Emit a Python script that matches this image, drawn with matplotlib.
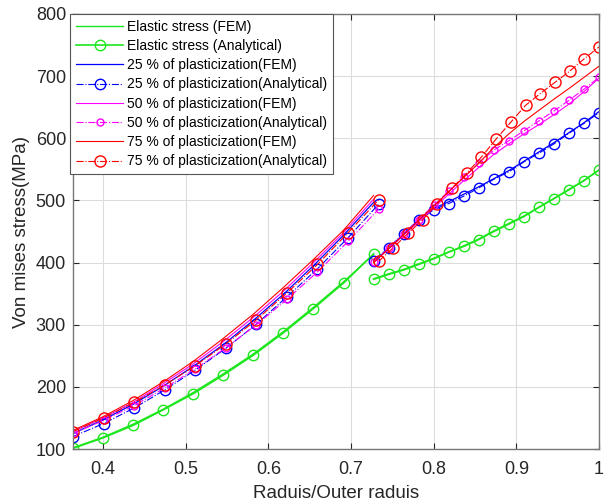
import matplotlib
matplotlib.use("Agg")
import matplotlib.pyplot as plt

plt.rcParams['font.family'] = ['Liberation Sans', 'DejaVu Sans']

# radius ratios (r / outer radius)
x_el_left = [0.3636, 0.4000, 0.4364, 0.4727, 0.5091, 0.5455, 0.5818, 0.6182, 0.6545, 0.6909, 0.7273]
x_el_right = [0.7273, 0.7455, 0.7636, 0.7818, 0.8000, 0.8182, 0.8364, 0.8545,
              0.8727, 0.8909, 0.9091, 0.9273, 0.9455, 0.9636, 0.9818, 1.0000]
x_pl_left = [0.3636, 0.4006, 0.4376, 0.4745, 0.5115, 0.5485, 0.5855, 0.6225, 0.6594, 0.6964, 0.7334]
x_pl_right = [0.7334, 0.7511, 0.7689, 0.7867, 0.8045, 0.8223, 0.8400, 0.8578,
              0.8756, 0.8934, 0.9111, 0.9289, 0.9467, 0.9645, 0.9822, 1.0000]

# elastic
el_fem_left = [102, 119, 140, 164, 191, 221, 253, 289, 328, 369, 413]
el_ana_left = [101, 118, 138, 163, 189, 219, 251, 287, 326, 367, 414]
el_fem_right = [374, 382, 389, 398, 407, 417, 427, 438, 451, 463, 475, 489, 503, 518, 532, 549]
el_ana_right = [373, 381, 388, 397, 406, 417, 426, 437, 450, 462, 474, 489, 503, 517, 532, 549]

# 25 % plasticization
p25_fem_left = [125, 147, 172, 201, 233, 268, 307, 349, 395, 444, 497]
p25_ana_left = [120, 141, 166, 195, 227, 262, 301, 345, 390, 440, 494]
p25_fem_right = [401, 423, 446, 469, 487, 498, 510, 522, 535, 548, 563, 578, 593, 609, 625, 643]
p25_ana_right = [402, 424, 446, 468, 485, 495, 507, 520, 534, 546, 562, 576, 591, 608, 624, 641]

# 50 % plasticization
p50_fem_left = [128, 150, 175, 205, 237, 273, 312, 354, 400, 448, 502]
p50_ana_left = [125, 146, 170, 198, 229, 263, 300, 341, 385, 434, 486]
p50_fem_right = [400, 422, 444, 466, 488, 510, 532, 553, 574, 591, 607, 622, 638, 655, 675, 697]
p50_ana_right = [401, 423, 446, 469, 492, 515, 537, 560, 581, 596, 612, 628, 644, 661, 679, 698]

# 75 % plasticization
p75_fem_left = [130, 152, 178, 208, 241, 278, 317, 360, 405, 452, 508]
p75_ana_left = [128, 150, 175, 203, 234, 269, 308, 351, 397, 448, 501]
p75_fem_right = [400, 422, 445, 468, 491, 514, 537, 560, 585, 607, 627, 645, 663, 680, 698, 716]
p75_ana_right = [402, 424, 447, 469, 495, 520, 544, 570, 599, 626, 653, 672, 690, 708, 728, 747]

labels = ['Elastic stress (FEM)', 'Elastic stress (Analytical)',
          '25 % of plasticization(FEM)', '25 % of plasticization(Analytical)',
          '50 % of plasticization(FEM)', '50 % of plasticization(Analytical)',
          '75 % of plasticization(FEM)', '75 % of plasticization(Analytical)']

GREEN = '#1ee61e'
BLUE = '#0000ff'
MAGENTA = '#ff00ff'
RED = '#ff0000'

fig = plt.figure(figsize=(6.06, 5.03), dpi=100)
ax = fig.add_axes([73 / 606, 54 / 503, 526 / 606, 435 / 503])


def fem(xl, yl, xr, yr, color, lw, label):
    h, = ax.plot(xl, yl, color=color, lw=lw, label=label)
    ax.plot(xr, yr, color=color, lw=lw)
    return h


def ana(xl, yl, xr, yr, color, ls, ms, lw, label):
    kw = dict(color=color, ls=ls, lw=lw, marker='o', ms=ms, mfc='none', mew=1.0)
    h, = ax.plot(xl, yl, label=label, **kw)
    ax.plot(xr, yr, **kw)
    return h


handles = [
    fem(x_el_left, el_fem_left, x_el_right, el_fem_right, GREEN, 1.0, labels[0]),
    ana(x_el_left, el_ana_left, x_el_right, el_ana_right, GREEN, '-', 7.5, 1.2, labels[1]),
    fem(x_el_left, p25_fem_left, x_el_right, p25_fem_right, BLUE, 0.9, labels[2]),
    ana(x_pl_left, p25_ana_left, x_el_right, p25_ana_right, BLUE, '-.', 7.5, 0.8, labels[3]),
    fem(x_el_left, p50_fem_left, x_el_right, p50_fem_right, MAGENTA, 0.8, labels[4]),
    ana(x_pl_left, p50_ana_left, x_el_right, p50_ana_right, MAGENTA, '-.', 5, 0.8, labels[5]),
    fem(x_el_left, p75_fem_left, x_el_right, p75_fem_right, RED, 0.8, labels[6]),
    ana(x_pl_left, p75_ana_left, x_pl_right, p75_ana_right, RED, '-.', 8, 0.8, labels[7]),
]

ax.set_xlim(0.3636, 1.0)
ax.set_ylim(100, 800)
ax.set_xticks([0.4, 0.5, 0.6, 0.7, 0.8, 0.9, 1.0])
ax.set_xticklabels(['0.4', '0.5', '0.6', '0.7', '0.8', '0.9', '1'])
ax.set_yticks(range(100, 801, 100))
ax.grid(True, color='#dcdcdc', lw=0.8)
ax.set_axisbelow(True)
ax.tick_params(direction='in', top=True, right=True, labelsize=13,
               colors='#262626', length=4)
ax.tick_params(axis='x', pad=9)
ax.tick_params(axis='y', pad=5)
for s in ax.spines.values():
    s.set_color('#777777')
    s.set_linewidth(1.0)

ax.set_xlabel('Raduis/Outer raduis', fontsize=13.5, color='#262626', labelpad=5)
ax.set_ylabel('Von mises stress(MPa)', fontsize=13.5, color='#262626', labelpad=4)

leg = ax.legend(handles=handles, loc='upper left', bbox_to_anchor=(-0.005, 1.0),
                borderaxespad=0, fontsize=10, fancybox=False, framealpha=1,
                edgecolor='#555555', handlelength=3.4, handletextpad=0.3,
                labelspacing=0.38, borderpad=0.4, numpoints=1)
leg.get_frame().set_linewidth(0.8)

fig.savefig('out.png', dpi=100)
